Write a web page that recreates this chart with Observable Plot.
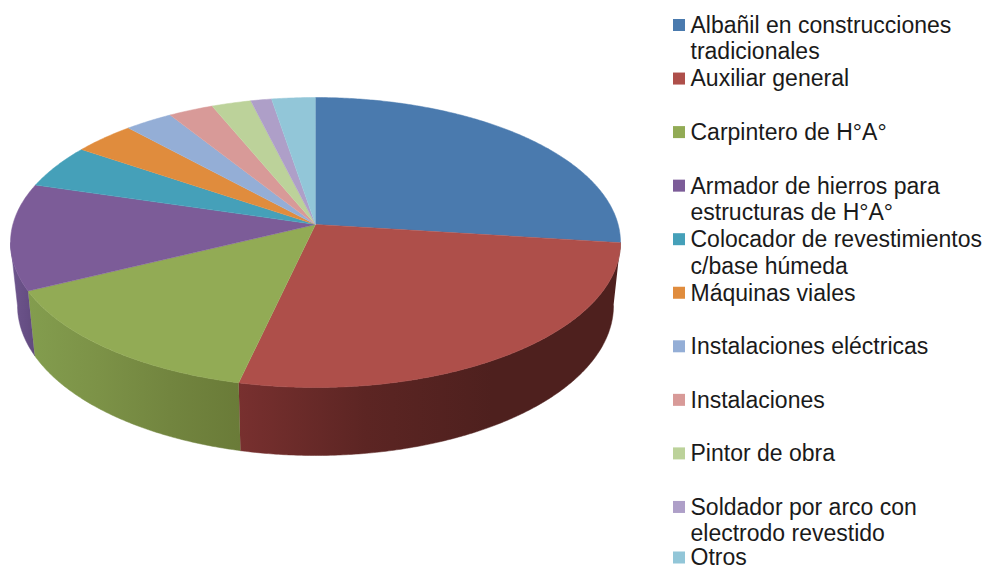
<!DOCTYPE html>
<html lang="es">
<head>
<meta charset="utf-8">
<style>
html,body{margin:0;padding:0;background:#fff}
svg{display:block}
</style>
<script src="https://cdn.jsdelivr.net/npm/d3@7"></script>
<script src="https://cdn.jsdelivr.net/npm/@observablehq/plot@0.6"></script>
</head>
<body>
<div id="chart"></div>
<script>
// Data
const categories = ["Albañil en construcciones tradicionales","Auxiliar general","Carpintero de H°A°","Armador de hierros para estructuras de H°A°","Colocador de revestimientos c/base húmeda","Máquinas viales","Instalaciones eléctricas","Instalaciones","Pintor de obra","Soldador por arco con electrodo revestido","Otros"];
const values = [25.0, 29.0, 15.5, 11.9, 4.6, 3.4, 2.6, 2.4, 2.1, 1.1, 2.3];
const colors = ["#4a7aae","#ae4f4a","#92ab55","#7c5c98","#45a0b9","#e08c3d","#94aed6","#d89a98","#bcd29a","#ae9fc8","#92c6d8"];
const legendLines = [["Albañil en construcciones","tradicionales"],["Auxiliar general"],["Carpintero de H°A°"],["Armador de hierros para","estructuras de H°A°"],["Colocador de revestimientos","c/base húmeda"],["Máquinas viales"],["Instalaciones eléctricas"],["Instalaciones"],["Pintor de obra"],["Soldador por arco con","electrodo revestido"],["Otros"]];
const sideStops = {
  "Auxiliar general": ["#78302f","#5c2523","#4e201e","#4e201e"],
  "Carpintero de H°A°": ["#839d4e","#7c9247","#72853f","#6a7b38"],
  "Armador de hierros para estructuras de H°A°": ["#6e5590","#6a5288","#664e84","#604a7c"]
};

// Geometry of the tilted disc (chart layout, in page units)
const top_ = {cx:315, cy:242, rx:305, ry:145};
const bottom = {cx:315, cy:305, rx:298, ry:150};
const apex = {x:315, y:224};
const rim = (e, t) => ({x: e.cx + e.rx*Math.sin(t), y: e.cy - e.ry*Math.cos(t)});
const total = d3.sum(values);
const DEG = Math.PI/180;
let acc = 0;
const slices = categories.map((category,i) => {
  const a0 = acc/total*360; acc += values[i]; const a1 = acc/total*360;
  return {category, a0, a1, i};
});
const arc = (a0,a1) => d3.range(0, Math.max(2, Math.ceil(a1-a0)*2)+1).map(k => a0 + (a1-a0)*k/Math.max(2, Math.ceil(a1-a0)*2));

const topPts = slices.flatMap(s => [
  {...apex, category:s.category},
  ...arc(s.a0,s.a1).map(a => ({...rim(top_,a*DEG), category:s.category}))
]);

const sideMarks = slices.filter(s => sideStops[s.category]).map(s => {
  const a0 = Math.max(s.a0,90), a1 = Math.min(s.a1,270);
  const pts = [...arc(a0,a1).map(a => rim(top_,a*DEG)), ...arc(a0,a1).reverse().map(a => rim(bottom,a*DEG))];
  const fill = `url(#side${s.i})`;
  return Plot.line(pts,{x:"x",y:"y",fill,stroke:fill,strokeWidth:0.5,curve:"linear"});
});

const gradientDefs = () => {
  const defs = d3.create("svg:defs");
  slices.filter(s => sideStops[s.category]).forEach(s => {
    const g = defs.append("linearGradient").attr("id",`side${s.i}`).attr("x1",0).attr("x2",1).attr("y1",0).attr("y2",0);
    sideStops[s.category].forEach((c,k,arr) => g.append("stop").attr("offset",k/(arr.length-1)).attr("stop-color",c));
  });
  return defs.node();
};

// Legend layout
const legendTop = 25, legendStep = 53.55, lineStep = 26.5, swatch = 12, legendBottom = 557.5;
const legendX = 673, textX = 690;
const legendRows = categories.map((category,i) => ({category, y: Math.min(legendBottom, legendTop + i*legendStep)}));
const legendText = legendRows.flatMap((r,i) => legendLines[i].map((text,j) => ({text, y: r.y + j*lineStep})));

const chart = Plot.plot({
  width:987, height:570, margin:0,
  x:{domain:[0,987], range:[0,987], axis:null},
  y:{domain:[0,570], range:[0,570], axis:null},
  color:{domain:categories, range:colors},
  style:{background:"#fff", fontFamily:"'Liberation Sans',Arial,sans-serif"},
  marks:[
    gradientDefs,
    ...sideMarks,
    Plot.line(topPts,{x:"x",y:"y",z:"category",fill:"category",stroke:"category",strokeWidth:0.5,curve:"linear"}),
    Plot.rect(legendRows,{x1:()=>legendX,x2:()=>legendX+swatch,y1:d=>d.y-swatch/2,y2:d=>d.y+swatch/2,fill:"category"}),
    Plot.text(legendText,{x:()=>textX,y:"y",text:"text",textAnchor:"start",lineAnchor:"middle",fontSize:23,fill:"#1a1a1a"})
  ]
});
document.getElementById("chart").append(chart);
</script>
</body>
</html>
